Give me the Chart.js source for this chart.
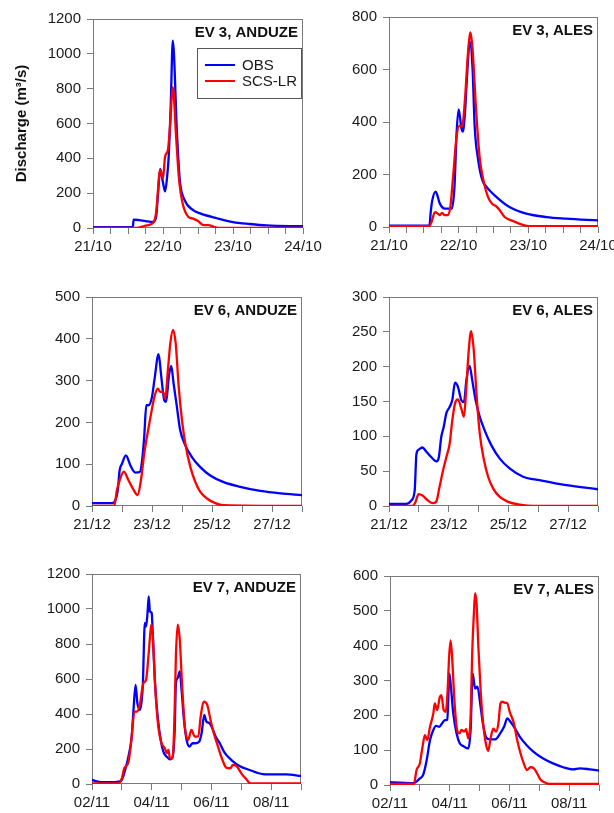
<!DOCTYPE html>
<html>
<head>
<meta charset="utf-8">
<script src="https://cdn.jsdelivr.net/npm/chart.js@4.4.1/dist/chart.umd.min.js"></script>
<style>
  html, body { margin: 0; padding: 0; background: #fff; overflow: hidden; }
  #wrap { position: relative; width: 614px; height: 813px; overflow: hidden; background: #fff; }
  canvas { position: absolute; }
</style>
</head>
<body>
<div id="wrap">
  <canvas id="ev3Anduze"></canvas>
  <canvas id="ev3Ales"></canvas>
  <canvas id="ev6Anduze"></canvas>
  <canvas id="ev6Ales"></canvas>
  <canvas id="ev7Anduze"></canvas>
  <canvas id="ev7Ales"></canvas>
</div>
<script>
// ---- data (time in day of month, discharge in m3/s) ----

// EV 3, ANDUZE (October)
const ev3AnduzeObsT = [21.0, 21.57, 21.58, 21.66, 21.75, 21.86, 21.9, 21.93, 21.96, 22.0, 22.03, 22.06, 22.08, 22.11, 22.14, 22.2, 22.24, 22.31, 22.43, 22.53, 22.77, 23.0, 23.24, 23.48, 24.0];
const ev3AnduzeObsQ = [5, 5, 48, 45, 40, 35, 60, 200, 340, 260, 210, 300, 400, 700, 1075, 540, 275, 160, 103, 84, 56, 34, 23, 15, 10];
const ev3AnduzeScsT = [21.0, 21.6, 21.67, 21.77, 21.86, 21.9, 21.96, 22.0, 22.03, 22.07, 22.1, 22.14, 22.19, 22.23, 22.28, 22.36, 22.43, 22.5, 22.58, 22.65, 22.72, 22.81, 24.0];
const ev3AnduzeScsQ = [0, 0, 4, 15, 30, 84, 333, 285, 410, 448, 580, 808, 505, 275, 142, 65, 54, 40, 17, 17, 8, 0, 0];

// EV 3, ALES (October)
const ev3AlesObsT = [21.0, 21.58, 21.6, 21.62, 21.67, 21.73, 21.8, 21.9, 21.94, 21.97, 22.0, 22.04, 22.06, 22.09, 22.12, 22.16, 22.2, 22.23, 22.28, 22.34, 22.4, 22.54, 22.73, 22.97, 23.26, 23.54, 24.0];
const ev3AlesObsQ = [5, 5, 60, 100, 135, 89, 70, 70, 153, 357, 448, 376, 363, 433, 573, 707, 599, 382, 255, 178, 153, 115, 76, 51, 38, 32, 25];
const ev3AlesScsT = [21.0, 21.58, 21.61, 21.66, 21.7, 21.73, 21.76, 21.8, 21.84, 21.88, 21.92, 21.97, 22.01, 22.05, 22.09, 22.13, 22.17, 22.2, 22.25, 22.3, 22.36, 22.42, 22.48, 22.54, 22.59, 22.66, 22.78, 22.9, 23.02, 24.0];
const ev3AlesScsQ = [3, 3, 19, 57, 51, 45, 54, 45, 45, 76, 191, 344, 385, 385, 484, 650, 741, 675, 446, 268, 172, 115, 89, 79, 64, 38, 23, 10, 3, 3];

// EV 6, ANDUZE (December)
const ev6AnduzeObsT = [21.0, 21.67, 21.78, 21.86, 21.92, 22.0, 22.13, 22.28, 22.44, 22.59, 22.67, 22.74, 22.81, 22.88, 23.0, 23.08, 23.22, 23.31, 23.41, 23.47, 23.56, 23.64, 23.72, 23.83, 23.94, 24.11, 24.33, 24.61, 24.94, 25.39, 25.94, 26.61, 27.28, 28.0];
const ev6AnduzeObsQ = [7, 7, 14, 38, 85, 101, 121, 97, 80, 81, 109, 165, 241, 241, 261, 301, 363, 309, 253, 249, 309, 335, 293, 237, 181, 145, 117, 93, 73, 57, 46, 36, 30, 26];
const ev6AnduzeScsT = [21.0, 21.74, 21.83, 21.92, 22.06, 22.22, 22.39, 22.52, 22.63, 22.74, 22.86, 22.97, 23.08, 23.19, 23.28, 23.37, 23.44, 23.53, 23.61, 23.7, 23.79, 23.89, 24.0, 24.11, 24.28, 24.44, 24.61, 24.83, 25.11, 25.39, 28.0];
const ev6AnduzeScsQ = [0, 0, 38, 61, 82, 61, 38, 26, 61, 125, 177, 221, 261, 281, 273, 273, 257, 325, 389, 421, 389, 285, 205, 149, 93, 58, 34, 18, 7, 2, 0];

// EV 6, ALES (December)
const ev6AlesObsT = [21.0, 21.58, 21.75, 21.86, 21.92, 22.0, 22.12, 22.25, 22.42, 22.59, 22.67, 22.75, 22.83, 22.92, 23.03, 23.12, 23.21, 23.31, 23.42, 23.51, 23.59, 23.7, 23.79, 23.9, 24.04, 24.2, 24.43, 24.71, 25.04, 25.49, 26.05, 26.94, 28.0];
const ev6AlesObsQ = [3, 3, 8, 22, 75, 81, 84, 78, 70, 64, 70, 99, 113, 133, 142, 152, 177, 171, 152, 149, 180, 201, 180, 152, 128, 109, 87, 68, 54, 42, 37, 30, 24];
const ev6AlesScsT = [21.0, 21.8, 21.89, 21.99, 22.12, 22.3, 22.47, 22.58, 22.69, 22.81, 22.92, 23.03, 23.12, 23.21, 23.31, 23.42, 23.51, 23.59, 23.67, 23.75, 23.84, 23.93, 24.04, 24.18, 24.32, 24.49, 24.71, 24.99, 25.38, 25.83, 28.0];
const ev6AlesScsQ = [0, 0, 6, 17, 15, 8, 4, 6, 27, 51, 70, 89, 123, 147, 153, 140, 128, 171, 223, 251, 223, 161, 104, 66, 42, 25, 13, 6, 2, 0, 0];

// EV 7, ANDUZE (November)
const ev7AnduzeObsT = [2.0, 2.28, 2.61, 2.89, 3.0, 3.11, 3.22, 3.33, 3.39, 3.46, 3.52, 3.61, 3.7, 3.77, 3.81, 3.86, 3.9, 3.94, 4.0, 4.03, 4.11, 4.2, 4.3, 4.39, 4.5, 4.61, 4.7, 4.77, 4.81, 4.87, 4.94, 5.0, 5.08, 5.17, 5.26, 5.37, 5.48, 5.59, 5.67, 5.76, 5.83, 5.94, 6.03, 6.14, 6.28, 6.44, 6.67, 6.94, 7.28, 7.72, 8.17, 8.5, 9.0];
const ev7AnduzeObsQ = [23, 11, 10, 13, 23, 80, 156, 271, 424, 567, 462, 424, 557, 920, 900, 977, 1072, 986, 977, 881, 576, 385, 252, 185, 156, 141, 156, 309, 576, 605, 643, 538, 366, 252, 214, 233, 233, 242, 290, 395, 357, 347, 319, 271, 233, 179, 137, 103, 80, 57, 55, 55, 46];
const ev7AnduzeScsT = [2.0, 2.89, 3.0, 3.08, 3.22, 3.33, 3.42, 3.52, 3.61, 3.72, 3.81, 3.89, 3.97, 4.0, 4.06, 4.13, 4.22, 4.33, 4.44, 4.5, 4.56, 4.61, 4.7, 4.76, 4.81, 4.87, 4.94, 5.02, 5.11, 5.22, 5.33, 5.44, 5.56, 5.64, 5.74, 5.86, 5.97, 6.08, 6.22, 6.37, 6.5, 6.63, 6.72, 6.86, 7.0, 7.17, 7.3, 9.0];
const ev7AnduzeScsQ = [4, 4, 32, 90, 124, 271, 414, 414, 462, 576, 595, 729, 891, 910, 767, 519, 328, 233, 204, 176, 195, 147, 147, 366, 729, 910, 824, 557, 328, 252, 309, 271, 271, 385, 471, 452, 366, 290, 214, 137, 93, 90, 109, 99, 61, 27, 4, 4];

// EV 7, ALES (November)
const ev7AlesObsT = [2.0, 2.33, 2.78, 2.89, 3.0, 3.11, 3.23, 3.34, 3.45, 3.54, 3.65, 3.76, 3.84, 3.92, 3.99, 4.04, 4.12, 4.23, 4.34, 4.45, 4.62, 4.7, 4.77, 4.85, 4.93, 5.02, 5.11, 5.22, 5.35, 5.52, 5.69, 5.82, 5.93, 6.04, 6.19, 6.35, 6.57, 6.8, 7.13, 7.46, 7.8, 8.13, 8.36, 8.69, 9.0];
const ev7AlesObsQ = [8, 7, 5, 10, 19, 29, 72, 129, 158, 170, 167, 179, 186, 188, 320, 282, 205, 148, 119, 112, 105, 158, 320, 277, 282, 234, 177, 137, 131, 131, 148, 167, 191, 181, 162, 138, 115, 96, 76, 62, 51, 45, 48, 45, 41];
const ev7AlesScsT = [2.0, 2.8, 2.89, 3.0, 3.09, 3.17, 3.25, 3.34, 3.45, 3.5, 3.58, 3.67, 3.72, 3.8, 3.87, 3.93, 3.98, 4.03, 4.08, 4.15, 4.23, 4.32, 4.4, 4.48, 4.55, 4.62, 4.7, 4.76, 4.81, 4.85, 4.9, 4.96, 5.04, 5.12, 5.21, 5.29, 5.37, 5.46, 5.55, 5.63, 5.7, 5.77, 5.85, 5.92, 6.01, 6.15, 6.26, 6.37, 6.48, 6.59, 6.7, 6.82, 6.93, 7.04, 7.19, 7.33, 9.0];
const ev7AlesScsQ = [3, 3, 43, 62, 110, 143, 129, 167, 205, 234, 215, 253, 258, 215, 210, 272, 368, 415, 368, 253, 167, 148, 158, 153, 160, 134, 196, 396, 492, 551, 520, 396, 263, 177, 119, 98, 134, 162, 153, 177, 234, 239, 236, 236, 210, 177, 129, 91, 62, 43, 51, 48, 33, 16, 7, 3, 3];

// x tick labels
const octDays = [21, 22, 23, 24];
const octLabels = ['21/10', '22/10', '23/10', '24/10'];
const decDays = [21, 23, 25, 27];
const decLabels = ['21/12', '23/12', '25/12', '27/12'];
const novDays = [2, 4, 6, 8];
const novLabels = ['02/11', '04/11', '06/11', '08/11'];

// ---- drawing ----
const FONT = 'Arial, "Liberation Sans", sans-serif';
const BLUE = '#0000ff';
const RED = '#ff0000';
const FRAME = '#7a7a7a';
const TEXT = '#1a1a1a';

const pts = (t, q) => t.map((x, i) => ({ x, y: q[i] }));

// frame, in-plot title and legend
const panelDeco = {
  id: 'panelDeco',
  beforeDatasetsDraw(chart) {
    const { ctx, chartArea: a } = chart;
    ctx.save();
    ctx.strokeStyle = FRAME;
    ctx.lineWidth = 1;
    ctx.strokeRect(Math.round(a.left) + 0.5, Math.round(a.top) + 0.5,
      Math.round(a.right - a.left) - 1, Math.round(a.bottom - a.top) - 1);
    ctx.restore();
  },
  afterDraw(chart, args, opts) {
    const { ctx, chartArea: a } = chart;
    ctx.save();
    ctx.fillStyle = '#111';
    ctx.font = 'bold 15px ' + FONT;
    ctx.textAlign = 'right';
    ctx.textBaseline = 'alphabetic';
    ctx.fillText(opts.title, a.right - 5, a.top + 18);

    if (opts.legend) {
      const bx = a.left + 104, by = a.top + 29, bw = a.right - 2 - bx, bh = 50;
      ctx.fillStyle = '#fff';
      ctx.fillRect(bx, by, bw, bh);
      ctx.strokeStyle = '#555';
      ctx.lineWidth = 1;
      ctx.strokeRect(Math.round(bx) + 0.5, Math.round(by) + 0.5, Math.round(bw), bh);
      ctx.font = '15px ' + FONT;
      ctx.textAlign = 'left';
      ctx.textBaseline = 'middle';
      chart.data.datasets.forEach((ds, i) => {
        const y = by + 17 + i * 16;
        ctx.strokeStyle = ds.borderColor;
        ctx.lineWidth = 2;
        ctx.beginPath();
        ctx.moveTo(bx + 8, y);
        ctx.lineTo(bx + 38, y);
        ctx.stroke();
        ctx.fillStyle = TEXT;
        ctx.fillText(ds.label, bx + 45, y + 1);
      });
    }
    ctx.restore();
  },
};

function makePanel(id, o) {
  const el = document.getElementById(id);
  el.width = o.cw;
  el.height = o.ch;
  el.style.left = o.cl + 'px';
  el.style.top = o.ct + 'px';
  const yW = o.plot[0] - o.cl;
  const xH = o.ct + o.ch - o.plot[3];

  return new Chart(el, {
    type: 'line',
    data: {
      datasets: [
        { label: 'OBS', data: pts(o.obsT, o.obsQ), borderColor: BLUE, order: 1 },
        { label: 'SCS-LR', data: pts(o.scsT, o.scsQ), borderColor: RED, order: 0 },
      ],
    },
    options: {
      responsive: false,
      animation: false,
      events: [],
      layout: { padding: { left: 0, top: o.plot[1] - o.ct, right: o.cl + o.cw - o.plot[2], bottom: 0 } },
      elements: {
        line: { borderWidth: 2.3, cubicInterpolationMode: 'monotone', fill: false },
        point: { radius: 0 },
      },
      plugins: {
        legend: { display: false },
        tooltip: { enabled: false },
        panelDeco: { title: o.title, legend: !!o.legend },
      },
      scales: {
        x: {
          type: 'linear',
          min: o.xMin,
          max: o.xMax,
          afterFit: s => { s.height = xH; },
          border: { display: false },
          grid: { drawOnChartArea: false, drawTicks: true, tickLength: 6, tickColor: FRAME },
          ticks: {
            stepSize: o.xStep,
            autoSkip: false,
            maxRotation: 0,
            padding: 4,
            color: TEXT,
            font: { family: FONT, size: 15 },
            callback: v => {
              const i = o.tickDays.findIndex(d => Math.abs(d - v) < 1e-6);
              return i >= 0 ? o.tickLabels[i] : '';
            },
          },
        },
        y: {
          min: 0,
          max: o.yMax,
          afterFit: s => { s.width = yW; },
          border: { display: false },
          grid: { drawOnChartArea: false, drawTicks: true, tickLength: 6, tickColor: FRAME },
          ticks: {
            stepSize: o.yStep,
            autoSkip: false,
            padding: 6,
            color: TEXT,
            font: { family: FONT, size: 15 },
            callback: v => String(v),
          },
          title: {
            display: !!o.yTitle,
            text: o.yTitle || '',
            color: '#111',
            font: { family: FONT, size: 15, weight: 'bold' },
            padding: { top: 13, bottom: 0 },
          },
        },
      },
    },
    plugins: [panelDeco],
  });
}

makePanel('ev3Anduze', {
  cl: 0, ct: 0, cw: 340, ch: 262, plot: [93, 19, 303, 228],
  obsT: ev3AnduzeObsT, obsQ: ev3AnduzeObsQ, scsT: ev3AnduzeScsT, scsQ: ev3AnduzeScsQ,
  xMin: 21, xMax: 24, xStep: 0.25, tickDays: octDays, tickLabels: octLabels,
  yMax: 1200, yStep: 200, title: 'EV 3, ANDUZE', legend: true, yTitle: 'Discharge (m³/s)',
});
makePanel('ev3Ales', {
  cl: 310, ct: 0, cw: 330, ch: 262, plot: [389, 17, 598, 227],
  obsT: ev3AlesObsT, obsQ: ev3AlesObsQ, scsT: ev3AlesScsT, scsQ: ev3AlesScsQ,
  xMin: 21, xMax: 24, xStep: 0.25, tickDays: octDays, tickLabels: octLabels,
  yMax: 800, yStep: 200, title: 'EV 3, ALES',
});
makePanel('ev6Anduze', {
  cl: 0, ct: 270, cw: 340, ch: 268, plot: [92, 297, 302, 506],
  obsT: ev6AnduzeObsT, obsQ: ev6AnduzeObsQ, scsT: ev6AnduzeScsT, scsQ: ev6AnduzeScsQ,
  xMin: 21, xMax: 28, xStep: 1, tickDays: decDays, tickLabels: decLabels,
  yMax: 500, yStep: 100, title: 'EV 6, ANDUZE',
});
makePanel('ev6Ales', {
  cl: 310, ct: 270, cw: 330, ch: 268, plot: [389, 297, 598, 506],
  obsT: ev6AlesObsT, obsQ: ev6AlesObsQ, scsT: ev6AlesScsT, scsQ: ev6AlesScsQ,
  xMin: 21, xMax: 28, xStep: 1, tickDays: decDays, tickLabels: decLabels,
  yMax: 300, yStep: 50, title: 'EV 6, ALES',
});
makePanel('ev7Anduze', {
  cl: 0, ct: 545, cw: 340, ch: 268, plot: [92, 574, 301, 784],
  obsT: ev7AnduzeObsT, obsQ: ev7AnduzeObsQ, scsT: ev7AnduzeScsT, scsQ: ev7AnduzeScsQ,
  xMin: 2, xMax: 9, xStep: 1, tickDays: novDays, tickLabels: novLabels,
  yMax: 1200, yStep: 200, title: 'EV 7, ANDUZE',
});
makePanel('ev7Ales', {
  cl: 310, ct: 545, cw: 330, ch: 268, plot: [390, 576, 599, 785],
  obsT: ev7AlesObsT, obsQ: ev7AlesObsQ, scsT: ev7AlesScsT, scsQ: ev7AlesScsQ,
  xMin: 2, xMax: 9, xStep: 1, tickDays: novDays, tickLabels: novLabels,
  yMax: 600, yStep: 100, title: 'EV 7, ALES',
});
</script>
</body>
</html>
